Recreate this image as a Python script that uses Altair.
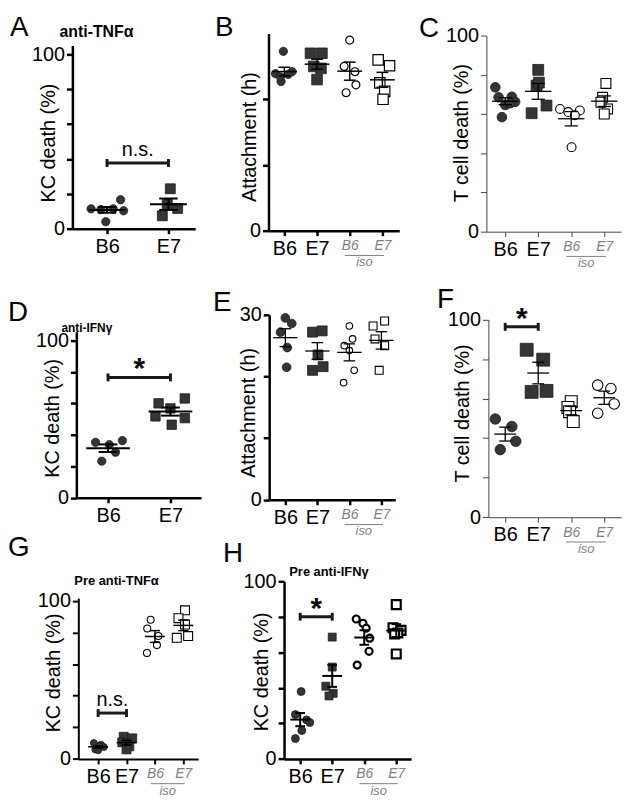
import altair as alt
import numpy as np
import pandas as pd

FONT = "Liberation Sans"
CELL_W, CELL_H = 210, 265

# ---------------- data ----------------
GROUP_LABELS = ["B6", "E7", "B6", "E7"]

A_VALUES = [[11.4, 11.0, 11.4, 16.6, 10.3, 4.0], [22.9, 11.6, 7.4, 14.3]]
A_JITTER = [[-0.26, -0.10, 0.10, 0.22, 0.27, -0.02], [0.03, 0.15, -0.10, -0.02]]

B_VALUES = [[27.3, 23.9, 22.7, 24.2, 23.8, 23.4], [27.0, 27.0, 25.0, 24.7, 23.0],
            [29.0, 25.0, 24.2, 22.2, 21.0], [26.0, 25.1, 22.5, 21.2, 20.0]]
B_JITTER = [[-0.03, -0.27, -0.10, 0.24, 0.12, -0.12], [-0.20, 0.15, -0.10, 0.12, 0.0],
            [0.0, -0.17, 0.16, 0.19, -0.11], [-0.13, 0.22, -0.08, 0.07, 0.02]]

C_VALUES = [[73.6, 68.5, 68.8, 66.2, 64.6, 58.4, 65.5], [82.5, 74.5, 64.3, 60.4, 76.0],
            [62.6, 61.8, 61.0, 59.4, 43.1], [75.6, 68.5, 62.6, 60.0, 66.0]]
C_JITTER = [[-0.30, -0.20, 0.20, 0.30, 0.0, -0.10, 0.15], [0.0, -0.05, 0.25, -0.20, 0.02],
            [-0.34, 0.26, -0.09, 0.11, 0.01], [0.05, -0.05, 0.10, 0.0, -0.10]]

D_VALUES = [[35.3, 33.8, 36.4, 29.0, 23.3], [60.1, 56.9, 63.2, 50.7, 46.5, 51.8]]
D_JITTER = [[-0.20, 0.02, 0.23, 0.12, -0.10], [-0.19, 0.0, 0.23, 0.23, 0.02, -0.24]]

E_VALUES = [[29.5, 28.6, 27.2, 24.7, 21.5], [27.2, 27.4, 23.5, 21.0, 21.6],
            [28.2, 26.1, 25.0, 24.2, 21.0, 19.0], [28.2, 29.0, 26.1, 25.0, 21.0]]
E_JITTER = [[0.0, 0.20, -0.15, 0.06, 0.04], [-0.15, 0.15, 0.02, -0.15, 0.18],
            [0.0, 0.10, -0.16, 0.0, 0.15, -0.18], [-0.26, 0.10, -0.20, 0.10, -0.07]]

F_VALUES = [[49.7, 45.9, 38.4, 34.2], [84.7, 79.7, 63.4, 63.9],
            [58.4, 55.5, 53.4, 48.4], [66.8, 65.1, 57.3, 52.6]]
F_JITTER = [[-0.30, 0.20, 0.32, -0.15], [-0.35, 0.15, -0.20, 0.25],
            [0.0, -0.10, -0.05, 0.06], [-0.20, 0.20, 0.30, -0.20]]

G_VALUES = [[10.0, 9.0, 7.5, 6.0, 5.5, 8.0], [14.0, 13.0, 10.5, 8.0, 6.0],
            [88.0, 82.5, 77.7, 72.0, 67.0], [94.0, 89.0, 85.0, 76.6, 77.7]]
G_JITTER = [[-0.15, 0.10, 0.20, -0.10, 0.0, 0.05], [-0.10, 0.20, -0.15, 0.10, 0.0],
            [-0.15, -0.27, 0.12, 0.07, -0.28], [0.06, -0.17, 0.06, -0.23, 0.17]]

H_VALUES = [[38.0, 25.0, 22.0, 20.5, 16.0, 11.5], [68.7, 51.8, 41.0, 37.0, 35.5],
            [78.9, 76.5, 73.7, 68.1, 60.7, 52.9], [87.0, 74.0, 72.5, 71.0, 70.5, 59.2]]
H_JITTER = [[0.03, -0.15, 0.20, 0.30, 0.05, -0.15], [0.0, 0.0, -0.20, 0.03, -0.10],
            [-0.25, -0.04, 0.06, 0.17, 0.15, -0.22], [0.0, -0.10, 0.15, 0.05, -0.05, 0.0]]

# significance brackets: (level, label)
A_SIG = (37.7, "n.s.")
D_SIG = (76.6, "*")
F_SIG = (96.3, "*")
G_SIG = (29.0, "n.s.")
H_SIG = (80.2, "*")

KC = "KC death   (%)"
ATT = "Attachment (h)"
TC = "T cell death   (%)"

STD = [("circle", True), ("square", True), ("circle", False), ("square", False)]
FSH = [("circle", True), ("square", True), ("square", False), ("circle", False)]

PANELS = [
    dict(letter="A", values=A_VALUES, jitter=A_JITTER, origin=(8, 8), axis_x=73, axis_end=197, t0=108, tlast=170,
         y0=227, ytick=51, ymax=100, axis_top=42, yticks=[0, 20, 40, 60, 80, 100], title=KC, tpos=(49, 140),
         lpos=(10, 32), sub=("anti-TNFα", 60, 33, 16), sig=A_SIG, shapes=STD, sizes=[70, 100, 64, 100],
         aw=2.5, ac="black", mw=2.0, mhw=0.30, chw=0.15, osw=1.3),
    dict(letter="B", values=B_VALUES, jitter=B_JITTER, origin=(218, 8), axis_x=271, axis_end=403, t0=287, tlast=386,
         y0=229, ytick=30, ymax=30, axis_top=30, yticks=[0, 10, 20, 30], title=ATT, tpos=(251.7, 134),
         lpos=(217, 32), sub=None, sig=None, shapes=STD, sizes=[70, 115, 64, 110],
         aw=2.5, ac="black", mw=1.5, mhw=0.38, chw=0.18, osw=1.2),
    dict(letter="C", values=C_VALUES, jitter=C_JITTER, origin=(428, 8), axis_x=491, axis_end=627, t0=510, tlast=610,
         y0=230, ytick=32, ymax=100, axis_top=32, yticks=[0, 20, 40, 60, 80, 100], title=TC, tpos=(466, 130),
         lpos=(423, 33), sub=None, sig=None, shapes=STD, sizes=[95, 120, 80, 100],
         aw=1.0, ac="#444444", mw=1.3, mhw=0.40, chw=0.2, osw=1.1),
    dict(letter="D", values=D_VALUES, jitter=D_JITTER, origin=(8, 273), axis_x=77, axis_end=203, t0=109, tlast=172,
         y0=498.7, ytick=340, ymax=100, axis_top=331, yticks=[0, 20, 40, 60, 80, 100], title=KC, tpos=(52.5, 418),
         lpos=(8, 320), sub=("anti-IFNγ", 62, 331, 12), sig=D_SIG, shapes=STD, sizes=[70, 90, 64, 90],
         aw=2.5, ac="black", mw=2.0, mhw=0.35, chw=0.15, osw=1.3),
    dict(letter="E", values=E_VALUES, jitter=E_JITTER, origin=(218, 273), axis_x=271.7, axis_end=399, t0=288, tlast=385,
         y0=500.7, ytick=314, ymax=30, axis_top=314, yticks=[0, 10, 20, 30], title=ATT, tpos=(251, 412.5),
         lpos=(215, 310), sub=None, sig=None, shapes=STD, sizes=[78, 100, 44, 64],
         aw=2.5, ac="black", mw=1.3, mhw=0.38, chw=0.18, osw=1.1),
    dict(letter="F", values=F_VALUES, jitter=F_JITTER, origin=(428, 273), axis_x=493, axis_end=627, t0=510, tlast=610,
         y0=518.3, ytick=318.7, ymax=100, axis_top=318.7, yticks=[0, 20, 40, 60, 80, 100], title=TC, tpos=(467, 413),
         lpos=(441, 307), sub=None, sig=F_SIG, shapes=FSH, sizes=[113, 170, 144, 113],
         aw=1.0, ac="#444444", mw=1.3, mhw=0.33, chw=0.18, osw=1.1),
    dict(letter="G", values=G_VALUES, jitter=G_JITTER, origin=(8, 538), axis_x=79, axis_end=200, t0=99, tlast=185,
         y0=762.3, ytick=602.7, ymax=100, axis_top=600, yticks=[0, 20, 40, 60, 80, 100], title=KC, tpos=(54, 675),
         lpos=(8, 557), sub=("Pre anti-TNFα", 75, 587, 13), sig=G_SIG, shapes=STD, sizes=[50, 81, 50, 81],
         aw=2.0, ac="black", mw=1.5, mhw=0.35, chw=0.18, osw=1.1),
    dict(letter="H", values=H_VALUES, jitter=H_JITTER, origin=(218, 538), axis_x=286.7, axis_end=415, t0=303, tlast=400,
         y0=762.3, ytick=583.3, ymax=100, axis_top=583, yticks=[0, 20, 40, 60, 80, 100], title=KC, tpos=(264, 674),
         lpos=(225, 563), sub=("Pre anti-IFNγ", 292, 578, 13), sig=H_SIG, shapes=STD, sizes=[64, 64, 50, 81],
         aw=2.5, ac="black", mw=2.0, mhw=0.31, chw=0.15, osw=2.2),
]

ONE = pd.DataFrame({"k": [0]})


def text_at(txt, x, y, size, **kw):
    return alt.Chart(ONE).mark_text(text=txt, font=FONT, fontSize=size, align="left",
                                    baseline="alphabetic", **kw).encode(x=alt.value(x), y=alt.value(y))


def build_panel(p, anchor=False):
    ox, oy = p["origin"]
    vals, jits = p["values"], p["jitter"]
    n = len(vals)
    step = (p["tlast"] - p["t0"]) / (n - 1)
    xdom = [(p["axis_x"] - p["t0"]) / step, (n - 1) + (p["axis_end"] - p["tlast"]) / step]
    xr = [p["axis_x"] - ox, p["axis_end"] - ox]
    pxu = (p["y0"] - p["ytick"]) / p["ymax"]
    ydom = [0, (p["y0"] - p["axis_top"]) / pxu]
    y0l = p["y0"] - oy
    yr = [y0l, p["axis_top"] - oy]
    xscale = alt.Scale(domain=xdom, range=xr, nice=False, zero=False)
    yscale = alt.Scale(domain=ydom, range=yr, nice=False, zero=False)

    labs = "[" + ",".join("'%s'" % s for s in GROUP_LABELS[:n]) + "]"
    iso_test = "datum.value >= 2"
    xaxis = alt.Axis(
        orient="bottom", offset=y0l - CELL_H, values=list(range(n)), labelExpr=labs + "[datum.value]",
        title=None, grid=False, labelFlush=False, labelFont=FONT, labelPadding=3,
        labelFontSize={"condition": {"test": iso_test, "value": 14}, "value": 20},
        labelColor={"condition": {"test": iso_test, "value": "#808080"}, "value": "black"},
        labelFontStyle={"condition": {"test": iso_test, "value": "italic"}, "value": "normal"},
        tickSize=5, tickWidth=p["aw"], tickColor=p["ac"], domainWidth=p["aw"], domainColor=p["ac"],
        labelOverlap=False)
    ymax = p["ymax"]
    yaxis = alt.Axis(
        orient="left", offset=-(p["axis_x"] - ox), values=p["yticks"],
        labelExpr="datum.value == 0 || datum.value == %d ? datum.label : ''" % ymax,
        title=p["title"], titleX=p["tpos"][0] - p["axis_x"], titleY=p["tpos"][1] - oy,
        titleAngle=-90, titleAlign="center", titleBaseline="middle", titleFont=FONT,
        titleFontSize=20, titleFontWeight="normal", titleColor="black",
        grid=False, labelFlush=False, labelFont=FONT, labelFontSize=20, labelColor="black",
        labelPadding=2, tickSize=6, tickWidth=p["aw"], tickColor=p["ac"],
        domainWidth=p["aw"], domainColor=p["ac"], labelOverlap=False)

    def X(f):
        return alt.X(f, type="quantitative", scale=xscale, axis=xaxis)

    def Y(f):
        return alt.Y(f, type="quantitative", scale=yscale, axis=yaxis)

    layers = []
    if anchor:
        layers.append(alt.Chart(ONE).mark_rect(fill="white").encode(
            x=alt.value(0), x2=alt.value(1), y=alt.value(0), y2=alt.value(1)))

    rows = []
    for g, (vs, js) in enumerate(zip(vals, jits)):
        for v, j in zip(vs, js):
            rows.append({"g": g, "x": g + j, "y": v})
    pts = pd.DataFrame(rows)

    for g in range(n):
        shape, filled = p["shapes"][g]
        sub = pts[pts["g"] == g]
        if filled:
            mk = dict(fill="#353535", stroke="#1c1c1c", strokeWidth=0.8)
        else:
            mk = dict(fill="white", stroke="black", strokeWidth=p["osw"])
        layers.append(alt.Chart(sub).mark_point(shape=shape, filled=True, opacity=1,
                                                size=p["sizes"][g], **mk)
                      .encode(x=X("x"), y=Y("y")))

    st = pts.groupby("g")["y"].agg(["mean", "std", "count"]).reset_index()
    st["sem"] = st["std"] / np.sqrt(st["count"])
    st["lo"] = st["mean"] - st["sem"]
    st["hi"] = st["mean"] + st["sem"]
    st["ml"] = st["g"] - p["mhw"]
    st["mr"] = st["g"] + p["mhw"]
    st["cl"] = st["g"] - p["chw"]
    st["cr"] = st["g"] + p["chw"]
    lc = "black"
    layers.append(alt.Chart(st).mark_rule(color=lc, strokeWidth=p["mw"]).encode(
        x=X("ml"), x2=alt.X2("mr"), y=Y("mean")))
    layers.append(alt.Chart(st).mark_rule(color=lc, strokeWidth=p["mw"]).encode(
        x=X("g"), y=Y("lo"), y2=alt.Y2("hi")))
    for edge in ("lo", "hi"):
        layers.append(alt.Chart(st).mark_rule(color=lc, strokeWidth=p["mw"]).encode(
            x=X("cl"), x2=alt.X2("cr"), y=Y(edge)))

    if p["sig"] is not None:
        level, lab = p["sig"]
        capu = 4.0 / pxu
        bd = pd.DataFrame({"x0": [0.0], "x1": [1.0], "xm": [0.5], "y": [level],
                           "ylo": [level - capu], "yhi": [level + capu]})
        layers.append(alt.Chart(bd).mark_rule(color="#1a1a1a", strokeWidth=3).encode(
            x=X("x0"), x2=alt.X2("x1"), y=Y("y")))
        for c in ("x0", "x1"):
            layers.append(alt.Chart(bd).mark_rule(color="#1a1a1a", strokeWidth=3).encode(
                x=X(c), y=Y("ylo"), y2=alt.Y2("yhi")))
        if lab == "*":
            layers.append(alt.Chart(bd).mark_text(text="*", font=FONT, fontSize=30, fontWeight="bold",
                                                  baseline="alphabetic", align="center", dy=1)
                          .encode(x=X("xm"), y=Y("y")))
        else:
            layers.append(alt.Chart(bd).mark_text(text=lab, font=FONT, fontSize=20,
                                                  baseline="alphabetic", align="center", dy=-7)
                          .encode(x=X("xm"), y=Y("y")))

    if n == 4:
        ud = pd.DataFrame({"u0": [1.85], "u1": [3.05], "um": [2.45]})
        layers.append(alt.Chart(ud).mark_rule(color="#808080", strokeWidth=1).encode(
            x=X("u0"), x2=alt.X2("u1"), y=alt.value(y0l + 25)))
        layers.append(alt.Chart(ud).mark_text(text="iso", font=FONT, fontSize=13, fontStyle="italic",
                                              color="#808080", baseline="middle", align="center")
                      .encode(x=X("um"), y=alt.value(y0l + 32)))

    lx, ly = p["lpos"]
    layers.append(text_at(p["letter"], lx - ox, ly - oy, 28, color="black"))
    if p["sub"] is not None:
        s, sx, sy, sz = p["sub"]
        layers.append(text_at(s, sx - ox, sy - oy, sz, color="black", fontWeight="bold"))

    return alt.layer(*layers).properties(width=CELL_W, height=CELL_H)


charts = [build_panel(p, anchor=(i == 0)) for i, p in enumerate(PANELS)]

chart = alt.concat(*charts, columns=3, spacing=0, bounds="flush", align="all").properties(
    padding=0
).configure_view(stroke=None)

chart.save("out.html", embed_options={"renderer": "svg", "actions": False})
